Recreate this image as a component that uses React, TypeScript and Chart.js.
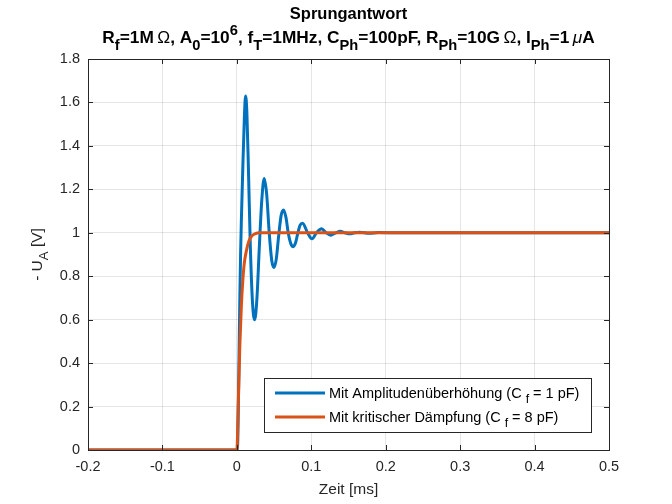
import React, { useEffect, useRef } from "react";
import { Chart, registerables } from "chart.js";

Chart.register(...registerables);

const xTicks = [-0.2, -0.1, 0, 0.1, 0.2, 0.3, 0.4, 0.5];
const yTicks = [0, 0.2, 0.4, 0.6, 0.8, 1, 1.2, 1.4, 1.6, 1.8];

// Mit Amplitudenüberhöhung (Cf = 1 pF)
const blueT = [
  -0.2, 0, 0.001, 0.002, 0.003, 0.004, 0.005, 0.006, 0.008, 0.01, 0.0117,
  0.0135, 0.0155, 0.018, 0.021, 0.024, 0.027, 0.03, 0.0335, 0.0367, 0.04,
  0.0435, 0.047, 0.05, 0.053, 0.056, 0.0595, 0.0627, 0.066, 0.069, 0.0725,
  0.0757, 0.079, 0.082, 0.085, 0.0883, 0.095, 0.101, 0.107, 0.1138, 0.12,
  0.126, 0.133, 0.139, 0.145, 0.152, 0.158, 0.165, 0.178, 0.19, 0.22, 0.5,
];
const blueV = [
  0, 0, 0.02, 0.2, 0.45, 0.7, 0.9, 1.05, 1.3, 1.52, 1.63,
  1.55, 1.3, 0.95, 0.68, 0.6, 0.7, 0.92, 1.15, 1.25, 1.18,
  1.0, 0.87, 0.84, 0.88, 0.98, 1.08, 1.105, 1.07, 1.0, 0.95,
  0.936, 0.955, 1.0, 1.035, 1.044, 1.0, 0.972, 1.0, 1.018, 1.0,
  0.989, 1.0, 1.007, 1.0, 0.995, 1.0, 1.003, 0.998, 1.001, 1.0, 1.0,
];

// Mit kritischer Dämpfung (Cf = 8 pF)
const orangeT = [-0.2, 0, 0.002, 0.004, 0.006, 0.008, 0.01, 0.013, 0.016, 0.02, 0.025, 0.03, 0.5];
const orangeV = [0, 0, 0.22, 0.48, 0.66, 0.78, 0.86, 0.92, 0.96, 0.985, 0.996, 1, 1];

const BLUE = "#0072BD";
const ORANGE = "#D95319";
const AX = "#262626";
const FONT = "'Liberation Sans', Arial, Helvetica, sans-serif";

type Seg = { t: string; k?: "sub" | "sup"; w?: string; s?: string };

function drawRich(
  ctx: CanvasRenderingContext2D,
  segs: Seg[],
  x: number,
  y: number,
  size: number,
  weight: string,
  align: "center" | "left",
  color: string
) {
  const fontFor = (sg: Seg) => {
    const sz = sg.k ? size * 0.85 : size;
    return `${sg.s || ""} ${sg.w || weight} ${sz}px ${FONT}`.trim();
  };
  let total = 0;
  const widths = segs.map((sg) => {
    ctx.font = fontFor(sg);
    const w = ctx.measureText(sg.t).width;
    total += w;
    return w;
  });
  let cx = align === "center" ? x - total / 2 : x;
  ctx.fillStyle = color;
  ctx.textBaseline = "alphabetic";
  ctx.textAlign = "left";
  segs.forEach((sg, i) => {
    ctx.font = fontFor(sg);
    let dy = 0;
    if (sg.k === "sub") dy = size * 0.38;
    if (sg.k === "sup") dy = -size * 0.45;
    ctx.fillText(sg.t, cx, y + dy);
    cx += widths[i];
  });
  return total;
}

const decorPlugin = {
  id: "decor",
  afterDraw(chart: any) {
    const ctx: CanvasRenderingContext2D = chart.ctx;
    const { left, right, top, bottom } = chart.chartArea;
    const xs = chart.scales.x;
    const ys = chart.scales.y;
    ctx.save();
    // box
    ctx.strokeStyle = AX;
    ctx.lineWidth = 1;
    ctx.strokeRect(Math.round(left) + 0.5, Math.round(top) + 0.5, Math.round(right - left), Math.round(bottom - top));
    // ticks
    const tl = 5;
    ctx.beginPath();
    xTicks.forEach((v) => {
      const px = Math.round(xs.getPixelForValue(v)) + 0.5;
      ctx.moveTo(px, bottom);
      ctx.lineTo(px, bottom - tl);
      ctx.moveTo(px, top);
      ctx.lineTo(px, top + tl);
    });
    yTicks.forEach((v) => {
      const py = Math.round(ys.getPixelForValue(v)) + 0.5;
      ctx.moveTo(left, py);
      ctx.lineTo(left + tl, py);
      ctx.moveTo(right, py);
      ctx.lineTo(right - tl, py);
    });
    ctx.stroke();

    // titles
    const cx = (left + right) / 2;
    drawRich(ctx, [{ t: "Sprungantwort" }], cx, 19, 16.5, "bold", "center", "#000");
    drawRich(
      ctx,
      [
        { t: "R" }, { t: "f", k: "sub" }, { t: "=1M\u2009" }, { t: "Ω", w: "normal" },
        { t: ", A" }, { t: "0", k: "sub" }, { t: "=10" }, { t: "6", k: "sup" },
        { t: ", f" }, { t: "T", k: "sub" }, { t: "=1MHz, C" }, { t: "Ph", k: "sub" },
        { t: "=100pF, R" }, { t: "Ph", k: "sub" }, { t: "=10G\u2009" }, { t: "Ω", w: "normal" },
        { t: ", I" }, { t: "Ph", k: "sub" }, { t: "=1\u2009" }, { t: "μ", w: "normal", s: "italic" }, { t: "A" },
      ],
      cx, 43, 17.3, "bold", "center", "#000"
    );

    // x label
    drawRich(ctx, [{ t: "Zeit [ms]" }], cx, 494, 15.5, "normal", "center", AX);

    // y label
    ctx.save();
    ctx.translate(42, (top + bottom) / 2);
    ctx.rotate(-Math.PI / 2);
    drawRich(ctx, [{ t: "- U" }, { t: "A", k: "sub" }, { t: " [V]" }], 0, 0, 15.5, "normal", "center", AX);
    ctx.restore();

    // legend
    const lx = 264.5, ly = 378.5, lw = 327, lh = 54;
    ctx.fillStyle = "#fff";
    ctx.fillRect(lx, ly, lw, lh);
    ctx.strokeStyle = AX;
    ctx.lineWidth = 1;
    ctx.strokeRect(lx, ly, lw, lh);
    const rows = [
      { c: BLUE, y: 393, pre: "Mit Amplitudenüberhöhung (C ", post: " = 1 pF)" },
      { c: ORANGE, y: 417, pre: "Mit kritischer Dämpfung (C ", post: " = 8 pF)" },
    ];
    rows.forEach((r) => {
      ctx.strokeStyle = r.c;
      ctx.lineWidth = 3;
      ctx.beginPath();
      ctx.moveTo(275, r.y);
      ctx.lineTo(325, r.y);
      ctx.stroke();
      drawRich(ctx, [{ t: r.pre }, { t: "f", k: "sub" }, { t: r.post }], 329, r.y + 4.5, 14.5, "normal", "left", "#000");
    });
    ctx.restore();
  },
};

export default function App() {
  const ref = useRef<HTMLCanvasElement | null>(null);
  useEffect(() => {
    if (!ref.current) return;
    const chart = new Chart(ref.current, {
      type: "line",
      data: {
        datasets: [
          {
            label: "Mit Amplitudenüberhöhung (Cf = 1 pF)",
            data: blueT.map((t, i) => ({ x: t, y: blueV[i] })),
            borderColor: BLUE,
            borderWidth: 3,
            pointRadius: 0,
            cubicInterpolationMode: "monotone",
            order: 2,
          },
          {
            label: "Mit kritischer Dämpfung (Cf = 8 pF)",
            data: orangeT.map((t, i) => ({ x: t, y: orangeV[i] })),
            borderColor: ORANGE,
            borderWidth: 3,
            pointRadius: 0,
            cubicInterpolationMode: "monotone",
            order: 1,
          },
        ],
      },
      options: {
        animation: false,
        responsive: false,
        devicePixelRatio: 1,
        layout: { padding: { top: 59, right: 63, left: 0, bottom: 0 } },
        plugins: { legend: { display: false }, title: { display: false }, tooltip: { enabled: false } },
        scales: {
          x: {
            type: "linear",
            min: -0.2,
            max: 0.5,
            afterBuildTicks: (s: any) => { s.ticks = xTicks.map((v) => ({ value: v })); },
            afterFit: (s: any) => { s.height = 54; },
            ticks: { color: AX, font: { family: FONT, size: 14.5 }, padding: 8, maxRotation: 0, autoSkip: false, callback: (v: any) => String(v) },
            grid: { color: "rgba(38,38,38,0.12)", drawTicks: false },
            border: { display: false },
          },
          y: {
            type: "linear",
            min: 0,
            max: 1.8,
            afterBuildTicks: (s: any) => { s.ticks = yTicks.map((v) => ({ value: v })); },
            afterFit: (s: any) => { s.width = 88; },
            ticks: { color: AX, font: { family: FONT, size: 14.5 }, padding: 8, autoSkip: false, callback: (v: any) => String(v) },
            grid: { color: "rgba(38,38,38,0.12)", drawTicks: false },
            border: { display: false },
          },
        },
      },
      plugins: [decorPlugin],
    } as any);
    return () => chart.destroy();
  }, []);
  return (
    <div style={{ position: "absolute", left: 0, top: 0, width: 672, height: 504, background: "#fff" }}>
      <canvas ref={ref} width={672} height={504} style={{ width: 672, height: 504 }} />
    </div>
  );
}
